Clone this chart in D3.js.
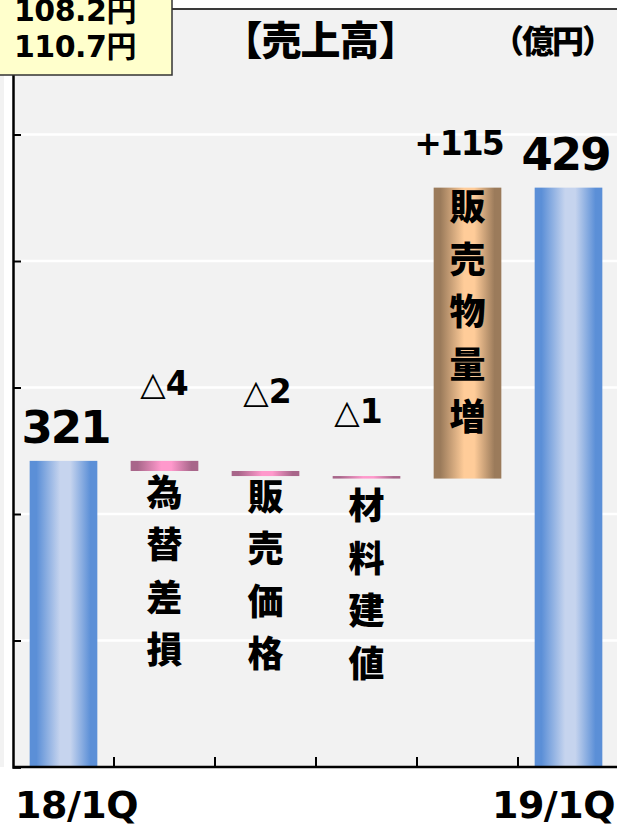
<!DOCTYPE html>
<html><head><meta charset="utf-8">
<script src="https://cdn.jsdelivr.net/npm/d3@7"></script>
<style>
html,body{margin:0;padding:0;background:#fff;}
svg{display:block;font-family:"Noto Sans CJK JP","Noto Sans",sans-serif;font-weight:900;}
.num{font-family:"DejaVu Sans","Noto Sans CJK JP",sans-serif;font-weight:700;}
</style></head>
<body><svg id="c" width="617" height="825"></svg>
<script>
// ---- data ----
const categories = ["18/1Q", "為替差損", "販売価格", "材料建値", "販売物量増", "19/1Q"];
const startValue = 321;
const changes = [-4, -2, -1, 115];
const endValue = 429;
const valueLabels = ["321", "△4", "△2", "△1", "+115", "429"];
const yTicks = [200, 250, 300, 350, 400, 450, 500];
const rateLabels = ["108.2円", "110.7円"];
const title = "【売上高】";
const unit = "（億円）";

// ---- build waterfall rows ----
const rows = [];
let run = startValue;
rows.push({cat: categories[0], y0: 200, y1: startValue, kind: "total", label: valueLabels[0]});
changes.forEach((c, i) => {
  const a = run, b = run + c;
  rows.push({cat: categories[i + 1], y0: Math.min(a, b), y1: Math.max(a, b), kind: c < 0 ? "neg" : "pos", label: valueLabels[i + 1]});
  run = b;
});
rows.push({cat: categories[5], y0: 200, y1: endValue, kind: "total", label: valueLabels[5]});

const W = 617, H = 825;
const svg = d3.select("#c");
const pLeft = 13, pTop = 8, pBottom = 767;

const x = d3.scaleBand().domain(categories).range([pLeft, 619]).paddingInner(0.33).paddingOuter(0.165);
const y = d3.scaleLinear().domain([200, 500]).range([pBottom, pTop]);

// gradients
const defs = svg.append("defs");
function grad(id, edge, mid) {
  const g = defs.append("linearGradient").attr("id", id).attr("x1", "0").attr("x2", "1").attr("y1", "0").attr("y2", "0");
  [[0, edge], [0.1, edge], [0.45, mid], [0.6, mid], [0.9, edge], [1, edge]].forEach(([o, c]) => g.append("stop").attr("offset", o).attr("stop-color", c));
}
grad("gBlue", "#5b8fd7", "#c6d4ee");
grad("gBrown", "#9b7b5b", "#ffcc99");
grad("gPink", "#a8668a", "#ff99cc");

// plot background
svg.append("rect").attr("x", 0).attr("y", pTop).attr("width", 4).attr("height", pBottom - pTop).attr("fill", "#f2f2f2");
svg.append("rect").attr("x", pLeft).attr("y", pTop).attr("width", W - pLeft).attr("height", pBottom - pTop).attr("fill", "#f2f2f2");
svg.append("line").attr("x1", pLeft).attr("x2", W).attr("y1", pTop + 1).attr("y2", pTop + 1).attr("stroke", "#3a3a3a").attr("stroke-width", 2);

// gridlines
svg.append("g").selectAll("line").data(yTicks.filter(t => t > 200 && t < 500)).join("line")
  .attr("x1", pLeft).attr("x2", W).attr("y1", d => y(d)).attr("y2", d => y(d))
  .attr("stroke", "#ffffff").attr("stroke-width", 2.5);

// bars
const fillFor = k => k === "total" ? "url(#gBlue)" : k === "neg" ? "url(#gPink)" : "url(#gBrown)";
svg.append("g").selectAll("rect").data(rows).join("rect")
  .attr("x", d => x(d.cat)).attr("width", x.bandwidth())
  .attr("y", d => y(d.y1)).attr("height", d => Math.max(2.5, y(d.y0) - y(d.y1)))
  .attr("fill", d => fillFor(d.kind));

// axes
const yAxis = d3.axisLeft(y).tickValues(yTicks).tickSize(-8).tickFormat("");
const gy = svg.append("g").attr("transform", `translate(${pLeft},0)`).call(yAxis);
gy.select(".domain").attr("stroke", "#000").attr("stroke-width", 2.5);
gy.selectAll(".tick line").attr("stroke", "#000").attr("stroke-width", 2);

const boundaries = categories.slice(1).map(c => x(c) - x.step() * x.paddingInner() / 2);
svg.append("g").selectAll("line").data(boundaries).join("line")
  .attr("x1", d => d).attr("x2", d => d).attr("y1", pBottom).attr("y2", pBottom - 10)
  .attr("stroke", "#000").attr("stroke-width", 2);
svg.append("line").attr("x1", pLeft).attr("x2", W).attr("y1", pBottom).attr("y2", pBottom).attr("stroke", "#000").attr("stroke-width", 2.5);

// value labels
const cx = d => x(d.cat) + x.bandwidth() / 2;
rows.forEach((d, i) => {
  if (d.kind === "total") {
    svg.append("text").attr("class", "num").attr("x", cx(d) + (i === 0 ? 2 : -3)).attr("y", y(d.y1) - 18).attr("text-anchor", "middle")
      .attr("font-size", 45).attr("letter-spacing", -2).text(d.label);
  } else if (d.kind === "pos") {
    svg.append("text").attr("class", "num").attr("x", cx(d) - 9).attr("y", y(d.y1) - 33).attr("text-anchor", "middle")
      .attr("font-size", 33).attr("letter-spacing", -2).text(d.label);
  } else {
    const lift = [0, 66, 68, 53][i];
    const dx = [0, 0, 2, -8][i];
    const t = svg.append("text").attr("class", "num").attr("x", cx(d) + dx).attr("y", y(d.y1) - lift).attr("text-anchor", "middle").attr("font-size", 33);
    t.append("tspan").attr("font-weight", 400).text(d.label[0]);
    t.append("tspan").text(d.label.slice(1));
  }
});

// vertical category names
rows.forEach((d, i) => {
  if (d.kind === "total") return;
  const chars = Array.from(d.cat);
  const startY = d.kind === "pos" ? y(d.y1) + 19 : y(d.y0) + [0, 21, 20, 27][i];
  svg.append("g").selectAll("text").data(chars).join("text")
    .attr("x", cx(d)).attr("y", (c, j) => startY + j * 52.5)
    .attr("dy", "0.38em").attr("text-anchor", "middle").attr("font-size", 36).text(c => c);
});

// x labels
svg.append("text").attr("class", "num").attr("x", 15).attr("y", 818).attr("font-size", 38).attr("letter-spacing", -0.5).text(categories[0]);
svg.append("text").attr("class", "num").attr("x", 615).attr("y", 818).attr("text-anchor", "end").attr("font-size", 38).attr("letter-spacing", -0.5).text(categories[5]);

// title & unit
svg.append("text").attr("x", 320).attr("y", 55).attr("text-anchor", "middle").attr("font-size", 40).attr("letter-spacing", -1).text(title);
svg.append("text").attr("x", 552).attr("y", 53).attr("text-anchor", "middle").attr("font-size", 32).attr("letter-spacing", -2).text(unit);

// rate box
svg.append("rect").attr("x", -4).attr("y", -4).attr("width", 176).attr("height", 79)
  .attr("fill", "#ffffcc").attr("stroke", "#333").attr("stroke-width", 1.5);
rateLabels.forEach((t, i) => {
  svg.append("text").attr("class", "num").attr("x", 14).attr("y", 21 + i * 36).attr("font-size", 30).attr("letter-spacing", -0.5).text(t);
});
</script></body></html>
